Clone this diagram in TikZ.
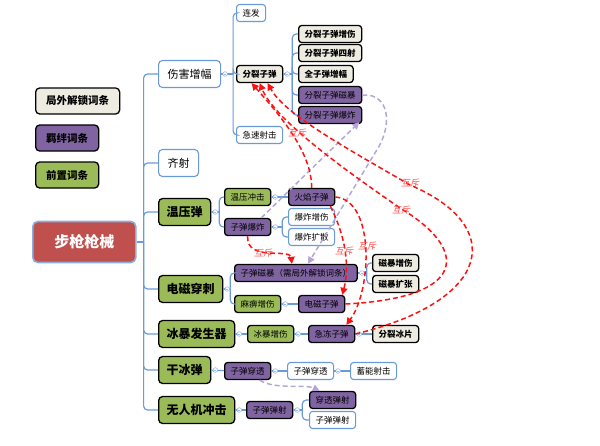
\documentclass[tikz,border=0pt]{standalone}
\usepackage{fontspec}
\setmainfont{Noto Sans CJK SC}
\newfontfamily\slantcjk[FakeSlant=0.2]{Noto Sans CJK SC}
\usetikzlibrary{arrows.meta}
\definecolor{cream}{HTML}{EEECE1}
\definecolor{bondpurple}{HTML}{8064A2}
\definecolor{pregreen}{HTML}{9BBB59}
\definecolor{rootred}{HTML}{C0504D}
\definecolor{treeblue}{HTML}{6A9BD8}
\definecolor{xred}{HTML}{FF1010}
\definecolor{xlabel}{HTML}{FF4A4A}
\definecolor{lav}{HTML}{B4A7D6}
\begin{document}
\begin{tikzpicture}[x=1pt,y=-1pt,
    box/.style={rounded corners=3pt,line width=1.3pt,inner ysep=1pt,inner xsep=6pt,
      minimum height=17pt,font=\fontsize{8.5}{9}\selectfont},
    plainbox/.style={box,draw=treeblue,fill=white,line width=1.1pt},
    unlockbox/.style={box,draw=black,fill=cream,font=\fontsize{8.5}{9}\selectfont\bfseries},
    bondbox/.style={box,draw=black,fill=bondpurple},
    prebox/.style={box,draw=black,fill=pregreen},
    big/.style={rounded corners=4pt,minimum height=27pt,inner xsep=8pt,
      font=\fontsize{12}{13}\selectfont\bfseries},
    branch/.style={plainbox,big,inner xsep=9pt,font=\fontsize{11}{12}\selectfont},
    legendbox/.style={rounded corners=4pt,minimum height=26pt,inner xsep=10.5pt,
      font=\fontsize{10.5}{11}\selectfont\bfseries},
    rootbox/.style={rounded corners=5pt,fill=rootred,draw=treeblue!80,line width=1.6pt,
      minimum height=41pt,inner xsep=21.5pt,text=white,font=\fontsize{15}{16}\selectfont\bfseries},
    tree/.style={draw=treeblue,line width=1.2pt,rounded corners=4pt},
    knob/.style={draw=treeblue!70,fill=white,line width=0.6pt},
    xarrow/.style={draw=xred,dash pattern=on 5pt off 3pt,line width=1.5pt,
      -{Triangle[length=7pt,width=7pt]}},
    lavarrow/.style={draw=lav,dash pattern=on 5pt off 3pt,line width=1.5pt,
      -{Triangle[length=7pt,width=7pt]}},
    excl/.style={text=xlabel,font=\slantcjk\fontsize{9}{9}\selectfont,inner sep=0pt}]
  \useasboundingbox (0,0) rectangle (600,445);
  \path
    (35,101) node[unlockbox,legendbox,anchor=west] (keyU){局外解锁词条}
    (35,138) node[bondbox,legendbox,anchor=west] (keyB){羁绊词条}
    (35,175) node[prebox,legendbox,anchor=west] (keyP){前置词条}
    (32,242) node[rootbox,anchor=west] (root){步枪枪械}
    (158,74) node[branch,anchor=west] (dmg){伤害增幅}
    (158,163) node[branch,anchor=west] (salvo){齐射}
    (158,212) node[prebox,big,anchor=west] (thermo){温压弹}
    (158,289) node[prebox,big,anchor=west] (emp){电磁穿刺}
    (158,334) node[prebox,big,anchor=west] (ice){冰暴发生器}
    (158,370) node[prebox,big,anchor=west] (dry){干冰弹}
    (158,410) node[prebox,big,anchor=west] (drone){无人机冲击}
    (236,13) node[plainbox,anchor=west] (burst){连发}
    (236,74) node[unlockbox,anchor=west] (split){分裂子弹}
    (236,135) node[plainbox,anchor=west] (rapid){急速射击}
    (298,34) node[unlockbox,anchor=west] (sInc){分裂子弹增伤}
    (298,53) node[unlockbox,anchor=west] (sFour){分裂子弹四射}
    (298,74) node[unlockbox,anchor=west] (allAmp){全子弹增幅}
    (298,95) node[bondbox,anchor=west] (sMag){分裂子弹磁暴}
    (298,115) node[bondbox,anchor=west] (sExpl){分裂子弹爆炸}
    (224,197) node[prebox,anchor=west] (tImpact){温压冲击}
    (224,227) node[bondbox,anchor=west] (bExpl){子弹爆炸}
    (288,197) node[bondbox,anchor=west] (fire){火焰子弹}
    (288,217) node[plainbox,anchor=west] (eInc){爆炸增伤}
    (288,237) node[plainbox,anchor=west] (eSpr){爆炸扩散}
    (234,273) node[bondbox,anchor=west] (bMag){子弹磁暴（需局外解锁词条）}
    (234,304) node[prebox,anchor=west] (para){麻痹增伤}
    (298,304) node[bondbox,anchor=west] (eBul){电磁子弹}
    (372,263) node[unlockbox,anchor=west] (magInc){磁暴增伤}
    (372,284) node[unlockbox,anchor=west] (magExp){磁暴扩张}
    (247,334) node[prebox,anchor=west] (iceInc){冰暴增伤}
    (308,334) node[bondbox,anchor=west] (frost){急冻子弹}
    (372,334) node[unlockbox,anchor=west] (shard){分裂冰片}
    (224,371) node[bondbox,anchor=west] (pierce){子弹穿透}
    (287,371) node[plainbox,anchor=west] (pierceW){子弹穿透}
    (350,371) node[plainbox,anchor=west] (charge){蓄能射击}
    (246,410) node[bondbox,anchor=west] (bounce){子弹弹射}
    (309,400) node[bondbox,anchor=west] (pBounce){穿透弹射}
    (309,420) node[plainbox,anchor=west] (bounceW){子弹弹射};
  \begin{scope}[tree]
    \draw (root.east) -- ++(7,0) coordinate (r0);
    \foreach \c in {dmg,salvo,thermo,emp,ice,dry,drone}
      \draw (r0) |- (\c.west);
    \draw (dmg.east) -- ++(12,0) coordinate (d0);
    \foreach \c in {burst,split,rapid}
      \draw (d0) |- (\c.west);
    \draw (split.east) -- ++(9,0) coordinate (s0);
    \foreach \c in {sInc,sFour,allAmp,sMag,sExpl}
      \draw (s0) |- (\c.west);
    \draw (thermo.east) -- ++(8,0) coordinate (t0);
    \foreach \c in {tImpact,bExpl}
      \draw (t0) |- (\c.west);
    \draw (bExpl.east) -- ++(11,0) coordinate (b0);
    \foreach \c in {eInc,eSpr}
      \draw (b0) |- (\c.west);
    \draw (emp.east) -- ++(7,0) coordinate (e0);
    \foreach \c in {bMag,para}
      \draw (e0) |- (\c.west);
    \draw (bMag.east) -- ++(9,0) coordinate (m0);
    \foreach \c in {magInc,magExp}
      \draw (m0) |- (\c.west);
    \draw (bounce.east) -- ++(9,0) coordinate (u0);
    \foreach \c in {pBounce,bounceW}
      \draw (u0) |- (\c.west);
    \draw (tImpact) to (fire);
    \draw (para) to (eBul);
    \draw (ice) to (iceInc);
    \draw (iceInc) to (frost);
    \draw (frost) to (shard);
    \draw (dry) to (pierce);
    \draw (pierce) to (pierceW);
    \draw (pierceW) to (charge);
    \draw (drone) to (bounce);
  \end{scope}
  \foreach \p in {dmg,split,thermo,tImpact,bExpl,emp,bMag,para,ice,iceInc,frost,dry,pierce,pierceW,drone,bounce}{
    \draw[knob] ([xshift=4pt]\p.east) circle (2.3pt);
    \draw[draw=treeblue!70,line width=0.5pt] ([xshift=3pt]\p.east) -- ([xshift=5pt]\p.east);
  }
  \begin{scope}[lavarrow]
    \draw ([xshift=-10pt]bExpl.north east) to ([xshift=-3pt,yshift=2pt]sExpl.south east);
    \draw (sMag.east) .. controls (390,93) and (392,125) .. (378,148) -- ([xshift=12pt]bMag.north);
    \draw ([xshift=12pt]pierce.south) .. controls (275,390) and (305,384) .. ([xshift=-13pt]pBounce.north);
  \end{scope}
  \begin{scope}[xarrow]
    \draw (fire.north) .. controls (312,150) and (275,110) .. ([xshift=-8pt]split.south);
    \draw (eBul.east) .. controls (468,298) and (470,250) .. (400,208)
      .. controls (345,170) and (275,120) .. (split.south);
    \draw (frost.east) .. controls (495,300) and (505,225) .. (410,185)
      .. controls (350,150) and (285,115) .. ([xshift=8pt]split.south);
    \draw (bExpl.south) .. controls (246,262) and (290,248) .. ([xshift=-4pt]bMag.north);
    \draw ([xshift=-5pt]fire.south east) .. controls (345,235) and (350,265) .. ([xshift=-3pt]eBul.north east);
    \draw (fire.east) .. controls (375,200) and (372,290) .. ([xshift=-9pt]frost.north east);
  \end{scope}
  \path
    (297,133) node[excl] (x1){互斥}
    (410,183) node[excl] (x2){互斥}
    (401,210) node[excl] (x3){互斥}
    (263,253) node[excl] (x4){互斥}
    (344,251) node[excl] (x5){互斥}
    (367,246) node[excl] (x6){互斥};
\end{tikzpicture}
\end{document}
